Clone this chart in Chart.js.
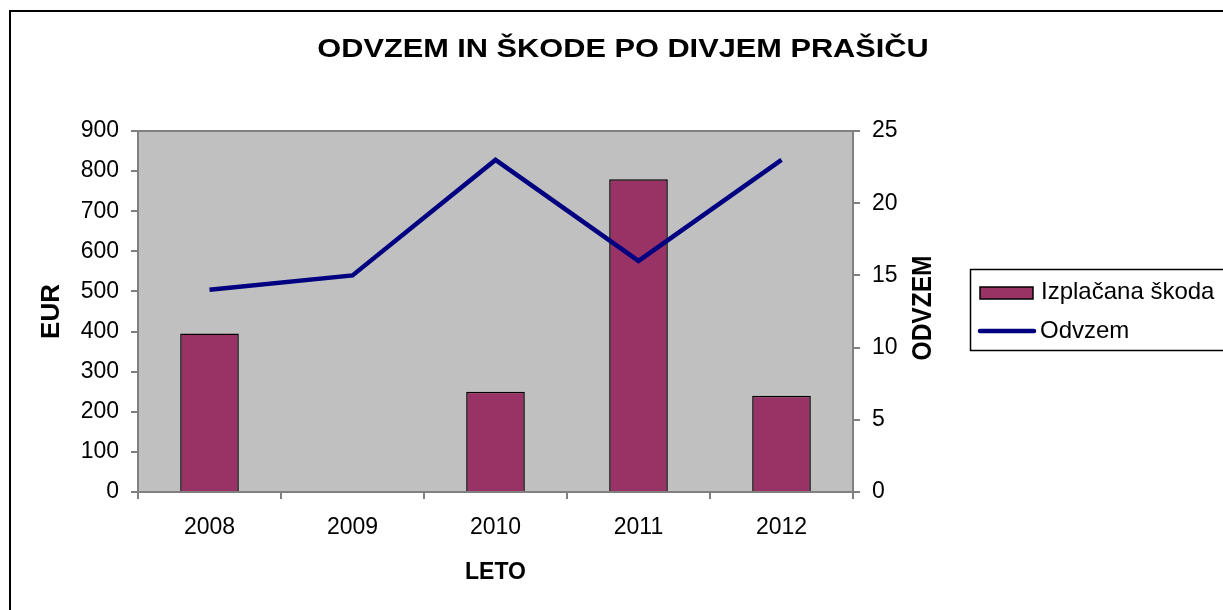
<!DOCTYPE html>
<html>
<head>
<meta charset="utf-8">
<title>Odvzem in škode po divjem prašiču</title>
<script src="https://cdn.jsdelivr.net/npm/chart.js@4.4.1/dist/chart.umd.min.js"></script>
<style>
body{margin:0;background:#fff;}
canvas{display:block;}
</style>
</head>
<body>
<canvas id="chart" width="1223" height="610"></canvas>
<script>
const years = ["2008", "2009", "2010", "2011", "2012"];
const damage = [395, 0, 250, 780, 240];
const harvest = [14, 15, 23, 16, 23];

const titleText = "ODVZEM IN ŠKODE PO DIVJEM PRAŠIČU";
const xTitle = "LETO";
const leftTitle = "EUR";
const rightTitle = "ODVZEM";
const damageLabel = "Izplačana škoda";
const harvestLabel = "Odvzem";

const FONT = "'Liberation Sans', Arial, sans-serif";
const barColor = "#993366";
const lineColor = "#000080";
const axisColor = "#808080";

const decor = {
    id: "decor",
    beforeDraw(chart){
        const ctx = chart.ctx;
        const a = chart.chartArea;
        ctx.save();
        ctx.fillStyle = "#fff";
        ctx.fillRect(0, 0, chart.width, chart.height);
        ctx.fillStyle = "#C0C0C0";
        ctx.fillRect(a.left, a.top, a.right - a.left, a.bottom - a.top);
        ctx.strokeStyle = axisColor;
        ctx.lineWidth = 2;
        ctx.beginPath();
        ctx.moveTo(a.left, a.top);
        ctx.lineTo(a.right, a.top);
        ctx.stroke();
        ctx.restore();
    },
    afterDraw(chart){
        const ctx = chart.ctx;
        ctx.save();

        // outer frame
        ctx.strokeStyle = "#000";
        ctx.lineWidth = 2;
        ctx.strokeRect(10, 11, 1300, 700);

        // title, slightly wide like the original
        ctx.save();
        ctx.translate(623, 50);
        ctx.scale(1.16, 1);
        ctx.fillStyle = "#000";
        ctx.font = "bold 26.5px " + FONT;
        ctx.textAlign = "center";
        ctx.textBaseline = "middle";
        ctx.fillText(titleText, 0, 0);
        ctx.restore();

        // right axis title, reads bottom to top
        ctx.save();
        ctx.translate(923, 308);
        ctx.rotate(-Math.PI / 2);
        ctx.scale(1, 1.14);
        ctx.fillStyle = "#000";
        ctx.font = "bold 24.5px " + FONT;
        ctx.textAlign = "center";
        ctx.textBaseline = "middle";
        ctx.fillText(rightTitle, 0, 0);
        ctx.restore();

        // legend
        ctx.lineWidth = 1.5;
        ctx.strokeStyle = "#000";
        ctx.strokeRect(970.5, 269.5, 300, 81);

        ctx.fillStyle = barColor;
        ctx.fillRect(980, 287, 53, 12);
        ctx.strokeRect(980, 287, 53, 12);

        ctx.strokeStyle = lineColor;
        ctx.lineWidth = 4.5;
        ctx.lineCap = "round";
        ctx.beginPath();
        ctx.moveTo(980, 331);
        ctx.lineTo(1034, 331);
        ctx.stroke();

        ctx.fillStyle = "#000";
        ctx.font = "24px " + FONT;
        ctx.textAlign = "left";
        ctx.textBaseline = "middle";
        ctx.fillText(chart.data.datasets[1].label, 1041, 292);
        ctx.fillText(chart.data.datasets[0].label, 1040, 331);

        ctx.restore();
    }
};

new Chart(document.getElementById("chart"), {
    type: "bar",
    data: {
        labels: years,
        datasets: [
            {
                type: "line",
                label: harvestLabel,
                data: harvest,
                yAxisID: "y1",
                borderColor: lineColor,
                backgroundColor: lineColor,
                borderWidth: 4.5,
                pointRadius: 0,
                tension: 0,
                order: 0
            },
            {
                label: damageLabel,
                data: damage,
                yAxisID: "y",
                backgroundColor: barColor,
                borderColor: "#000",
                borderWidth: 1.5,
                categoryPercentage: 1,
                barPercentage: 0.41,
                order: 1
            }
        ]
    },
    options: {
        responsive: false,
        animation: false,
        layout: {
            padding: {left: 0, right: 270, top: 131, bottom: 0}
        },
        plugins: {
            legend: {display: false},
            title: {display: false},
            tooltip: {enabled: false}
        },
        scales: {
            x: {
                offset: true,
                afterFit(scale){ scale.height = 118; },
                grid: {
                    offset: true,
                    drawOnChartArea: false,
                    color: axisColor,
                    lineWidth: 2,
                    tickLength: 7
                },
                border: {color: axisColor, width: 2},
                ticks: {
                    color: "#000",
                    font: {family: FONT, size: 23},
                    padding: 15,
                    maxRotation: 0
                },
                title: {
                    display: true,
                    text: xTitle,
                    color: "#000",
                    font: {family: FONT, size: 23, weight: "bold"},
                    padding: {top: 0, bottom: 24}
                }
            },
            y: {
                position: "left",
                min: 0,
                max: 900,
                afterFit(scale){ scale.width = 138; },
                grid: {
                    drawOnChartArea: false,
                    color: axisColor,
                    lineWidth: 2,
                    tickLength: 7
                },
                border: {color: axisColor, width: 2},
                ticks: {
                    stepSize: 100,
                    color: "#000",
                    font: {family: FONT, size: 23},
                    padding: 12
                },
                title: {
                    display: true,
                    text: leftTitle,
                    color: "#000",
                    font: {family: FONT, size: 26, weight: "bold"},
                    padding: {top: 36, bottom: 0}
                }
            },
            y1: {
                position: "right",
                min: 0,
                max: 25,
                afterFit(scale){ scale.width = 100; },
                grid: {
                    drawOnChartArea: false,
                    color: axisColor,
                    lineWidth: 2,
                    tickLength: 7
                },
                border: {color: axisColor, width: 2},
                ticks: {
                    stepSize: 5,
                    color: "#000",
                    font: {family: FONT, size: 23},
                    padding: 12
                }
            }
        }
    },
    plugins: [decor]
});
</script>
</body>
</html>
